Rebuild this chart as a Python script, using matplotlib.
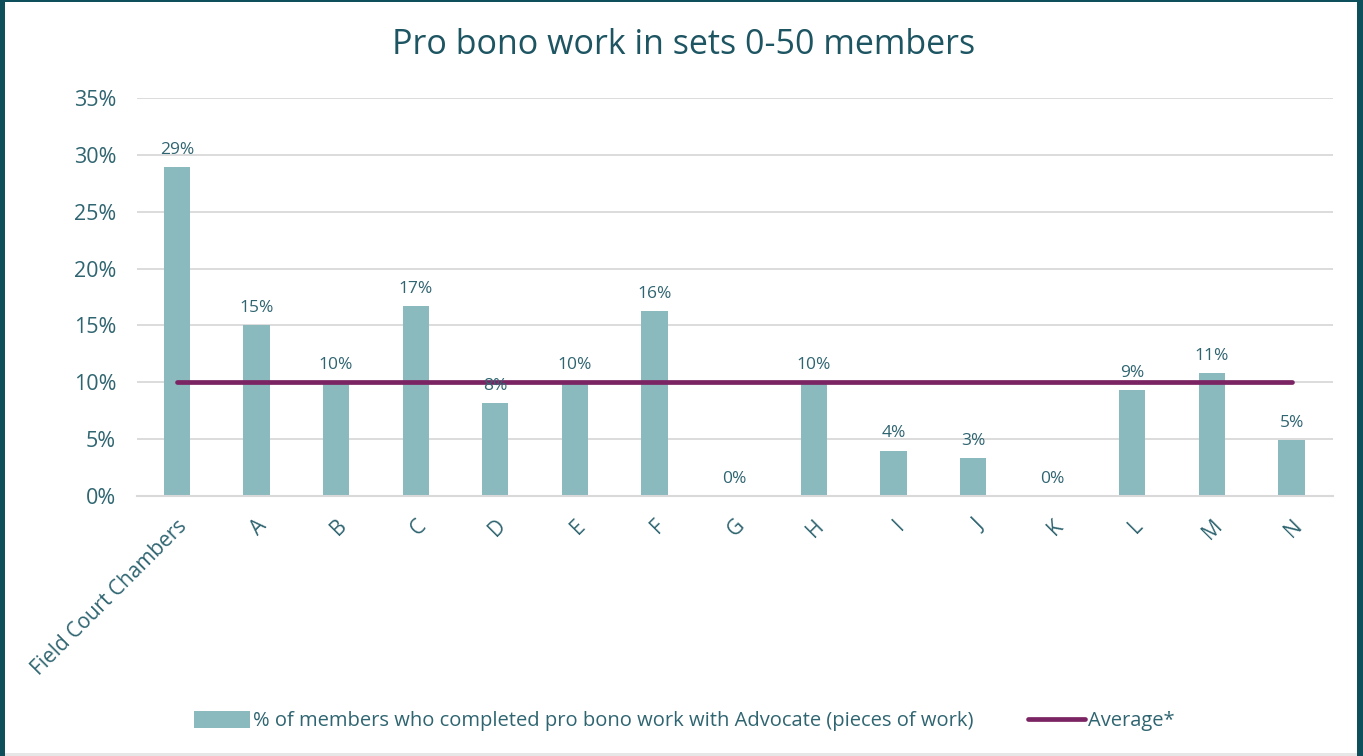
import matplotlib
matplotlib.use("Agg")
import matplotlib.pyplot as plt
from matplotlib.patches import Rectangle
from matplotlib.ticker import PercentFormatter

categories = ["Field Court Chambers", "A", "B", "C", "D", "E", "F", "G", "H",
              "I", "J", "K", "L", "M", "N"]
values = [28.9, 15.0, 10.0, 16.7, 8.2, 10.0, 16.3, 0.0, 10.0, 4.0, 3.3, 0.0, 9.3, 10.8, 4.9]
labels = ["29%", "15%", "10%", "17%", "8%", "10%", "16%", "0%", "10%", "4%", "3%",
          "0%", "9%", "11%", "5%"]
average = 10.0
yticks = [0, 5, 10, 15, 20, 25, 30, 35]

bar_color = "#8AB9BE"
avg_color = "#7B2463"
text_color = "#2F6571"
title_color = "#1D5562"
grid_color = "#D9D9D9"

plt.rcParams['font.family'] = ['Open Sans', 'DejaVu Sans']

fig = plt.figure(figsize=(13.63, 7.56), dpi=100)
fig.patch.set_facecolor("white")
W, H = 1363, 756

ax = fig.add_axes([137 / W, 1 - 496 / H, (1333 - 137) / W, (496 - 98) / H])
x = list(range(len(categories)))
bars = ax.bar(x, values, width=0.33, color=bar_color, zorder=2,
              label="% of members who completed pro bono work with Advocate (pieces of work)")
line, = ax.plot([x[0], x[-1]], [average, average], color=avg_color, lw=3.4, zorder=3,
                solid_capstyle="round", label="Average*")

for xi, v, lab in zip(x, values, labels):
    ax.text(xi, v + 0.8, lab, ha="center", va="bottom", fontsize=12.5,
            color=text_color, zorder=4)

ax.set_ylim(0, 35)
ax.set_xlim(-0.5, len(categories) - 0.48)
ax.set_yticks(yticks)
ax.yaxis.set_major_formatter(PercentFormatter(decimals=0))
ax.set_xticks(x)
ax.set_xticklabels(categories, rotation=45, ha="right", rotation_mode="anchor")
ax.tick_params(axis="both", length=0, colors=text_color)
ax.tick_params(axis="y", labelsize=15.5, pad=15)
ax.tick_params(axis="x", labelsize=15, pad=14)
ax.grid(axis="y", color=grid_color, lw=1.3, zorder=0)
for s in ["top", "right", "left"]:
    ax.spines[s].set_visible(False)
ax.spines["bottom"].set_color(grid_color)
ax.spines["bottom"].set_linewidth(1.5)

fig.text(684 / W, 1 - 45 / H, "Pro bono work in sets 0-50 members", ha="center",
         va="center", fontsize=24.5, color=title_color)

leg = fig.legend(handles=[bars, line], loc="center", bbox_to_anchor=(684 / W, 1 - 721 / H),
                 ncol=2, frameon=False, fontsize=14.5, handlelength=2.8, handleheight=0.9,
                 handletextpad=0.15, columnspacing=2.7)
for t in leg.get_texts():
    t.set_color(text_color)

# frame border
fig.add_artist(Rectangle((0, 0), 5 / W, 1, transform=fig.transFigure, color="#0E4F5C", lw=0))
fig.add_artist(Rectangle((1 - 6 / W, 0), 6 / W, 1, transform=fig.transFigure, color="#0E4F5C", lw=0))
fig.add_artist(Rectangle((0, 1 - 2 / H), 1, 2 / H, transform=fig.transFigure, color="#0E4F5C", lw=0))
fig.add_artist(Rectangle((5 / W, 0), 1 - 11 / W, 3 / H, transform=fig.transFigure, color="#E6E6E6", lw=0))

fig.savefig("out.png", dpi=100, facecolor="white")
